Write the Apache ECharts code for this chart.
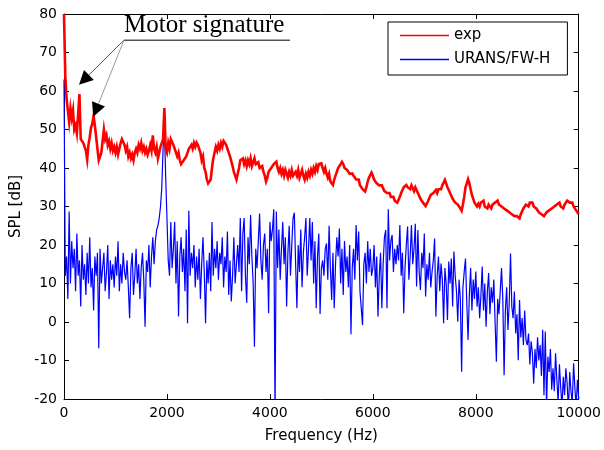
<!DOCTYPE html>
<html>
<head>
<meta charset="utf-8">
<script src="https://cdn.jsdelivr.net/npm/echarts@6/dist/echarts.min.js"></script>
<style>
  html, body { margin: 0; padding: 0; background: #fff; }
  #main { width: 604px; height: 450px; }
</style>
</head>
<body>
<div id="main"></div>
<script>
// spectra sampled every 25 Hz, 0 .. 10000 Hz
const FREQ_STEP = 25;

const expSPL = [
  80, 64, 58, 55, 52, 55.5, 53, 55, 50, 51, 49, 48.5, 59.2, 47.5, 48, 46.5, 47, 44.5, 42.2, 46,
  48, 50.5, 51.5, 53.5, 51, 48, 45, 42, 41.7, 44, 47, 50, 47.5, 48.5, 46, 47, 45, 46.5, 44.5, 45.5,
  44, 45.5, 43.5, 45, 46.5, 47.5, 48, 46, 44.5, 45.5, 43, 44, 42.5, 43.5, 42, 44, 45, 44, 46, 45,
  46.5, 44.5, 45.5, 44, 45, 43.5, 44.5, 46, 44.5, 48.5, 45, 44, 45.5, 42.5, 44, 45.5, 45, 47.5, 55.6, 45,
  44, 46.5, 45, 47.5, 48, 46, 45, 44, 43, 44, 42, 41, 40.5, 42, 41.5, 43, 44, 45, 44.5, 46,
  45, 46.5, 45.5, 46.6, 46, 45, 44, 42, 43, 40, 39, 37, 36, 35.5, 37, 40, 42.5, 43, 45.5, 44.5,
  46, 45, 46.5, 45.5, 47, 47.4, 46, 45, 44, 43, 42.5, 40.5, 39, 38, 37, 38.5, 40, 42, 41.5, 42.5,
  41, 42, 40.5, 42, 41, 42.5, 40.5, 41.5, 42.5, 41, 40.5, 41.5, 40, 39.5, 40.5, 39, 38, 36.5, 37.5, 39,
  38.5, 40, 39.5, 41, 40.5, 41.6, 40, 39, 40, 38.5, 39.5, 38, 39.5, 38.5, 37.5, 39, 38, 39.5, 38, 37.5,
  39, 38, 39.5, 37.5, 38.5, 39.5, 38, 37, 38.5, 37.5, 39, 38, 39.5, 38.5, 40, 39, 40.5, 39.5, 41, 40.5,
  41.2, 40, 39, 40, 38.5, 37.5, 38.5, 36.5, 37, 35.6, 37, 38, 39, 40, 39.5, 41, 41.6, 41, 40, 40.5,
  39.5, 40, 38.5, 39, 38.6, 38, 37.5, 37, 36.5, 37, 35.5, 35, 34.5, 34, 33.9, 35, 36.5, 37.5, 38, 38.8,
  38, 37, 37.5, 36, 36.5, 35.5, 35, 35.5, 34.7, 34, 34.5, 33.5, 33, 33.5, 32.5, 32, 32.5, 31.5, 32, 31,
  31.5, 32.5, 33.5, 34, 35, 34.5, 35.6, 35, 35.5, 34.5, 35.5, 35, 34, 35, 34.7, 33.5, 33, 32, 31.5, 31,
  30.5, 30.1, 30.5, 31.5, 32, 33, 32.5, 33.5, 34, 34.3, 33.5, 34.5, 35, 34.5, 35.5, 36, 36.9, 36.5, 35, 34.5,
  33.5, 33, 32, 32.5, 31, 31.5, 30.5, 30, 29.5, 28.9, 30.5, 32.5, 35, 36, 37.1, 36, 34.5, 33, 32, 31,
  31.5, 30, 30.7, 30, 31, 30.5, 31.5, 30, 30.5, 29.5, 30.5, 30, 29.5, 30.5, 30, 31, 30.5, 31.5, 30.5, 31,
  30, 30.5, 29.5, 30, 29, 29.5, 28.5, 29, 28, 28.5, 27.5, 28, 27.5, 27, 26.9, 28, 28.5, 29.5, 30, 30.5,
  31, 30, 31, 30.5, 31, 30, 30.5, 29.5, 29, 28.5, 29, 28, 28.5, 27.5, 27.8, 28.5, 28, 29, 28.5, 29.5,
  29, 30, 29.5, 30.5, 30, 31, 30, 30.5, 29.5, 30.5, 31, 31.5, 32, 31, 30.5, 31, 30, 29.5, 29, 28.5,
  28
];

const uransSPL = [
  63, 12, 17, 6, 28.7, 10, 21, 14, 19, 8, 23, 12, 16, 4, 20, 11, 15, 7, 18, 10,
  22, 9, 14, 3, 17, 12, 18, -6.8, 19, 10, 14, 18, 8, 13, 20, 6, 16, 11, 15, 9,
  17, 12, 21, 8, 15, 10, 18, 13, 11, 16, 9, 1, 14, 18, 7, 12, 19, 10, 15, 6,
  14, 18, 11, -1.2, 16, 13, 20, 9, 17, 22, 15, 21, 24, 25, 27, 30, 35, 45, 51, 38,
  27, 16, 12, 26, 14, 19, 26, 10, 21, 1.4, 17, 22, 13, 19, 8, 24, -0.3, 28.9, 12, 18,
  14, 20, 9, 17, 11, 19, 6, 15, 22, 13, -0.3, 16, 10, 18, 8, 26, 12, 19, 14, 21,
  11, 18, 15, 22, 9, 17, 13, 23.5, 7, 16, 5.3, 12, 22, 10, 15, 20, 13, 27, 8, 23,
  27, 12, 5, 22, 15, 27.8, 17, 10, -6.4, 19, 14, 21, 28.2, 16, 11, 20, 23, 13, 19, 2.3,
  26, 21, 24, 29.3, -25, 28.7, 14, 24, 11, 19, 26, 15, 22, 4, 18, 25, 12, 20, 27, 28.4,
  15, 3.6, 20, 13, 24, 9, 18, 22, 27, 12, 19, 27, 16, 26, 10, 21, 3.6, 17, 23, 2.1,
  14, 16, 12, 19, 20.4, 11, 25, 14, 5.7, 18, 3.6, 15, 22, 17, 24.3, 10, 19, 7, 21, 13,
  17, 9, 20, -3.2, 14, 19, 11, 25.2, 16, 23.5, 8, 3.6, -0.8, 15, 18, 10, 21, 13, 19, 12,
  14, 20, 9, 17, 1.4, 12, 18, 3.6, 15, 22, 23.9, 3.6, 29.3, 16, 21, 22.6, 13, 19, 15, 20,
  16, 25.2, 12, 18, 2.3, 14, 20, 24.8, 11, 17, 25.2, 15, 19, 25.5, 9.2, 23.9, 13, 8.3, 18, 14,
  23, 6.6, 15, 11, 18, 9, 13, 16, 21.7, 1.4, 12, 17, 8, 15.2, 11, -0.3, 14, 10, 0.5, 15.7,
  10, 16.5, 4, 18.3, 12, 8, 0.1, 11, 6, -12.9, 9, 13, 16.5, 5, -4.7, 7, 14, 3, 11, 6,
  13.1, 4, 9, 1, 7, 14.4, 3, 10, -1.2, 8, 12.7, 2, 9, 5, 11, 0, -10.3, 6, 2, 8,
  14, 6, -13.8, 3, 9, -2.1, 5, 17.8, 4, 1, 7.9, -3, 2, -9.9, 5.7, -4, 1, -6, 3, -4.7,
  -6, -3, -11, -5, -8, -16, -7, -12, -4, -10, -6, -14, -2, -19, -2.5, -22, -9, -13, -7, -17.6,
  -12, -18, -8.1, -15, -21, -11, -17, -22, -14.2, -19, -12, -16, -23, -13, -18, -21, -10.7, -17, -22, -15,
  -20
];

const seriesNames = ['exp', 'URANS/FW-H'];
const xTicks = [0, 10000, 2000];   // min, max, interval
const yTicks = [-20, 80, 10];

// annotation anchors, in data units (Hz, dB)
const noteText = 'Motor signature';
const noteStart = [1165, 73.2];
const noteEnd = [4390, 73.2];
const arrowTips = [[291, 61.6], [569, 53.3]];

const toPairs = (arr) => arr.map((v, i) => [i * FREQ_STEP, v]);

const tickFont = { color: '#000', fontFamily: 'DejaVu Sans', fontSize: 14 };

const axisCommon = (isX, pos, showLabel) => ({
  type: 'value',
  position: pos,
  min: isX ? xTicks[0] : yTicks[0],
  max: isX ? xTicks[1] : yTicks[1],
  interval: isX ? xTicks[2] : yTicks[2],
  axisLine: { show: true, onZero: false, lineStyle: { color: '#000', width: 1 } },
  axisTick: { show: true, inside: true, length: 5, lineStyle: { color: '#000' } },
  splitLine: { show: false },
  axisLabel: Object.assign({ show: showLabel, margin: 7, formatter: (v) => String(v) }, tickFont)
});

const chart = echarts.init(document.getElementById('main'));

const option = {
  animation: false,
  backgroundColor: '#fff',
  grid: { left: 64, right: 25, top: 14, bottom: 51 },
  legend: {
    data: seriesNames,
    orient: 'vertical',
    left: 388,
    top: 22,
    icon: 'rect',
    itemWidth: 49,
    itemHeight: 1.5,
    itemGap: 9,
    padding: [6, 17, 8, 12],
    borderColor: '#000',
    borderWidth: 1,
    backgroundColor: '#fff',
    textStyle: { color: '#000', fontFamily: 'DejaVu Sans', fontSize: 15 }
  },
  xAxis: [
    Object.assign(axisCommon(true, 'bottom', true), {
      name: 'Frequency (Hz)',
      nameLocation: 'middle',
      nameGap: 30,
      nameTextStyle: { color: '#000', fontFamily: 'DejaVu Sans', fontSize: 15 }
    }),
    axisCommon(true, 'top', false)
  ],
  yAxis: [
    Object.assign(axisCommon(false, 'left', true), {
      name: 'SPL [dB]',
      nameLocation: 'middle',
      nameGap: 39,
      nameTextStyle: { color: '#000', fontFamily: 'DejaVu Sans', fontSize: 15 }
    }),
    axisCommon(false, 'right', false)
  ],
  series: [
    {
      name: seriesNames[0],
      type: 'line',
      data: toPairs(expSPL),
      showSymbol: false,
      color: '#ff0000',
      lineStyle: { color: '#ff0000', width: 2.6, join: 'miter' },
      z: 3
    },
    {
      name: seriesNames[1],
      type: 'line',
      data: toPairs(uransSPL),
      showSymbol: false,
      color: '#0000ff',
      lineStyle: { color: '#0000ff', width: 1.2 },
      z: 2
    }
  ]
};

chart.setOption(option);

// annotation: text + underline + two arrows, placed through the axes
const toPx = (p) => chart.convertToPixel({ xAxisIndex: 0, yAxisIndex: 0 }, p);
const s = toPx(noteStart);
const e = toPx(noteEnd);
const elements = [
  {
    type: 'text',
    x: s[0], y: s[1] - 2,
    style: {
      text: noteText, fill: '#000',
      font: '25px "Liberation Serif"',
      textAlign: 'left', textVerticalAlign: 'bottom'
    },
    z: 10
  },
  {
    type: 'line',
    shape: { x1: s[0], y1: s[1], x2: e[0], y2: e[1] },
    style: { stroke: '#000', lineWidth: 1 },
    z: 10
  }
];
const headLen = 14, headHalf = 7;
arrowTips.forEach((tipData, i) => {
  const t = toPx(tipData);
  const dx = t[0] - s[0], dy = t[1] - s[1];
  const len = Math.sqrt(dx * dx + dy * dy);
  const ux = dx / len, uy = dy / len;
  const bx = t[0] - ux * headLen, by = t[1] - uy * headLen;
  elements.push({
    type: 'line',
    shape: { x1: s[0], y1: s[1], x2: bx, y2: by },
    style: { stroke: i === 0 ? '#555' : '#999', lineWidth: 1 },
    z: 10
  });
  elements.push({
    type: 'polygon',
    shape: {
      points: [
        [t[0], t[1]],
        [bx - uy * headHalf, by + ux * headHalf],
        [bx + uy * headHalf, by - ux * headHalf]
      ]
    },
    style: { fill: '#000' },
    z: 10
  });
});
chart.setOption({ graphic: { elements: elements } });
</script>
</body>
</html>
